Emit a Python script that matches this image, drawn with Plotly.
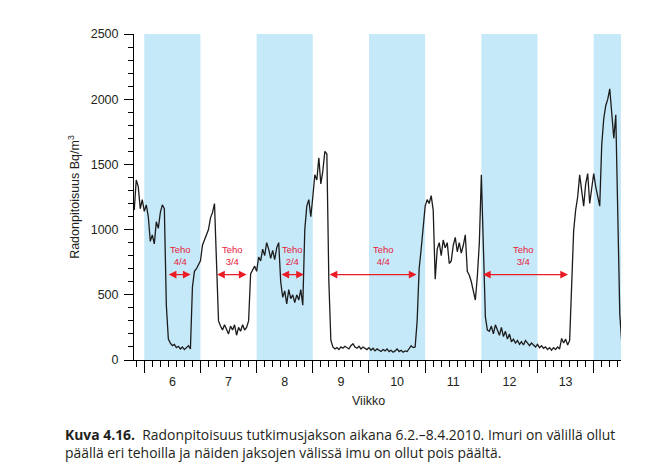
import plotly.graph_objects as go

# ---------------- data ----------------
# Time axis: days since Monday 8.2.2010 (start of week 6); one reading every 6 h,
# first reading on 6.2.2010 18:00
t_start_day = -1.25
t_step_day = 0.25
radon = [
    1150, 1380, 1330, 1160, 1230, 1140, 1190, 1100, 910, 960,
    890, 1060, 1010, 1130, 1190, 1160, 420, 160, 130, 110,
    120, 95, 105, 85, 100, 80, 95, 110, 85, 560,
    680, 700, 730, 760, 880, 920, 960, 1000, 1090, 1130,
    1200, 700, 300, 260, 230, 270, 240, 200, 260, 230,
    270, 190, 250, 220, 270, 230, 250, 300, 660, 690,
    720, 680, 790, 760, 850, 800, 900, 850, 780, 840,
    770, 860, 900, 600, 480, 530, 430, 540, 470, 500,
    440, 500, 460, 540, 420, 1000, 1180, 1230, 1100, 1250,
    1420, 1380, 1550, 1350, 1450, 1600, 1580, 600, 150, 100,
    85, 95, 80, 100, 90, 105, 95, 85, 110, 125,
    100, 90, 105, 85, 100, 90, 80, 95, 75, 90,
    70, 85, 75, 65, 80, 70, 85, 65, 75, 60,
    70, 85, 65, 75, 60, 70, 65, 90, 110, 95,
    100, 300, 700, 850, 1000, 1180, 1230, 1200, 1260, 1150,
    620, 850, 900, 800, 920, 860, 900, 740, 760, 880,
    940, 830, 900, 820, 880, 960, 680, 650, 600, 520,
    460, 640, 900, 1420, 800, 330, 230, 220, 260, 200,
    270, 230, 190, 250, 180, 220, 160, 200, 140, 160,
    130, 150, 120, 140, 115, 150, 130, 110, 130, 115,
    100, 120, 95, 110, 90, 100, 80, 95, 75, 95,
    80, 100, 85, 165, 130, 160, 115, 150, 660, 990,
    1150, 1250, 1420, 1300, 1180, 1350, 1430, 1200, 1300, 1430,
    1330, 1250, 1180, 1650, 1850, 1950, 2000, 2080, 1850, 1700,
    1880, 1000, 350, 130,
]
days = [t_start_day + t_step_day * i for i in range(len(radon))]

week_numbers = [6, 7, 8, 9, 10, 11, 12, 13]
shaded_weeks = [6, 8, 10, 12, 14]          # weeks with blue background
first_week = 6

# periods when the vacuum was on (days since 8.2.2010) and its power level
power_start = [2.86, 8.89, 16.90, 22.91, 42.02]
power_end = [5.78, 12.75, 19.89, 33.92, 52.80]
power_label_day = [4.5, 11.0, 18.5, 29.8, 47.3]
power_level = ["4/4", "3/4", "2/4", "4/4", "3/4"]

y_ticks = [0, 500, 1000, 1500, 2000, 2500]

# ---------------- figure ----------------
X_RANGE = [-1.28, 59.4]
BAND = "#c6e9f9"
RED = "#ec1c24"
TXT_RED = "#e6203c"
FONT = "Liberation Sans"
CAP_FONT = "Open Sans"
INK = "#231f20"

# the page body has an 8 px margin: lay out in page pixels and compensate
OFF = 8
W, H = 645 - 2 * OFF, 471 - 2 * OFF
PL, PR, PT, PB = 134, 621, 34, 360          # plot area in page pixels
L, T = PL - OFF, PT - OFF
R = W - (PR - OFF)
B = H - (PB - OFF)
pw, ph = PR - PL, PB - PT

def px_to_paper(px, py):
    return (px - PL) / pw, (PB - py) / ph

fig = go.Figure()

fig.add_trace(go.Scatter(
    x=days, y=radon, mode="lines",
    line=dict(color="#1c1c1c", width=1.3),
    showlegend=False, hoverinfo="skip",
))

week_starts = [(w - first_week) * 7 for w in week_numbers] + [(week_numbers[-1] + 1 - first_week) * 7]
week_centers = [(w - first_week) * 7 + 3.5 for w in week_numbers]

# helper trace for the label axis
fig.add_trace(go.Scatter(
    x=week_centers, y=[None] * len(week_centers), xaxis="x2", yaxis="y",
    mode="markers", showlegend=False, hoverinfo="skip",
))

for w in shaded_weeks:
    x0 = (w - first_week) * 7
    x1 = min(x0 + 7, X_RANGE[1])
    fig.add_shape(type="rect", xref="x", yref="paper", x0=x0, x1=x1, y0=0, y1=1,
                  fillcolor=BAND, line=dict(width=0), layer="below")

ARROW_Y = 655
for s, e, lx, lvl in zip(power_start, power_end, power_label_day, power_level):
    fig.add_annotation(x=e, y=ARROW_Y, ax=s, ay=ARROW_Y, xref="x", yref="y",
                       axref="x", ayref="y", text="", showarrow=True,
                       arrowside="end+start", arrowhead=2, arrowsize=1.1,
                       arrowwidth=1.4, arrowcolor=RED, standoff=0, startstandoff=0)
    fig.add_annotation(x=lx, y=805, xref="x", yref="y", text="Teho<br>" + lvl,
                       showarrow=False, font=dict(family=FONT, size=9.5, color=TXT_RED),
                       xanchor="center", yanchor="middle")

vx, vy = px_to_paper(368, 401)
fig.add_annotation(x=vx, y=vy, xref="paper", yref="paper", text="Viikko", showarrow=False,
                   font=dict(family=FONT, size=12.5, color=INK), xanchor="center", yanchor="middle")

c1x, c1y = px_to_paper(63, 434)
c2x, c2y = px_to_paper(63, 452)
fig.add_annotation(x=c1x, y=c1y, xref="paper", yref="paper",
                   text="<b>Kuva 4.16.</b>  Radonpitoisuus tutkimusjakson aikana 6.2.\u20138.4.2010. Imuri on välillä ollut",
                   showarrow=False, font=dict(family=CAP_FONT, size=13.9, color=INK),
                   xanchor="left", yanchor="middle")
fig.add_annotation(x=c2x, y=c2y, xref="paper", yref="paper",
                   text="päällä eri tehoilla ja näiden jaksojen välissä imu on ollut pois päältä.",
                   showarrow=False, font=dict(family=CAP_FONT, size=13.9, color=INK),
                   xanchor="left", yanchor="middle")

fig.update_layout(
    width=W, height=H,
    margin=dict(l=L, r=R, t=T, b=B, pad=0, autoexpand=False),
    paper_bgcolor="white", plot_bgcolor="white",
    font=dict(family=FONT, size=12.5, color=INK),
    showlegend=False,
    xaxis=dict(
        range=X_RANGE, tickmode="array", tickvals=week_starts, ticktext=[""] * len(week_starts),
        ticks="outside", ticklen=12, tickwidth=1, tickcolor="black",
        minor=dict(dtick=1, tick0=0, ticks="outside", ticklen=6, tickwidth=1,
                   tickcolor="black", showgrid=False),
        showline=True, linecolor="black", linewidth=1,
        showgrid=False, zeroline=False, fixedrange=True,
    ),
    xaxis2=dict(
        overlaying="x", anchor="y", side="bottom", range=X_RANGE,
        tickmode="array", tickvals=week_centers, ticktext=[str(w) for w in week_numbers],
        ticks="outside", ticklen=10, tickcolor="rgba(0,0,0,0)",
        showline=False, showgrid=False, zeroline=False,
        tickfont=dict(family=FONT, size=12.5, color=INK),
    ),
    yaxis=dict(
        range=[0, 2500], tickmode="array", tickvals=y_ticks,
        ticks="outside", ticklen=9, tickwidth=1, tickcolor="black",
        minor=dict(dtick=100, tick0=0, ticks="outside", ticklen=5, tickwidth=1,
                   tickcolor="black", showgrid=False),
        showline=True, linecolor="black", linewidth=1,
        showgrid=False, zeroline=False, ticklabelstandoff=3,
        title=dict(text="Radonpitoisuus Bq/m<sup>3</sup>", standoff=8,
                   font=dict(family=FONT, size=12.5, color=INK)),
        tickfont=dict(family=FONT, size=12.5, color=INK),
    ),
)

fig.write_html("out.html")
